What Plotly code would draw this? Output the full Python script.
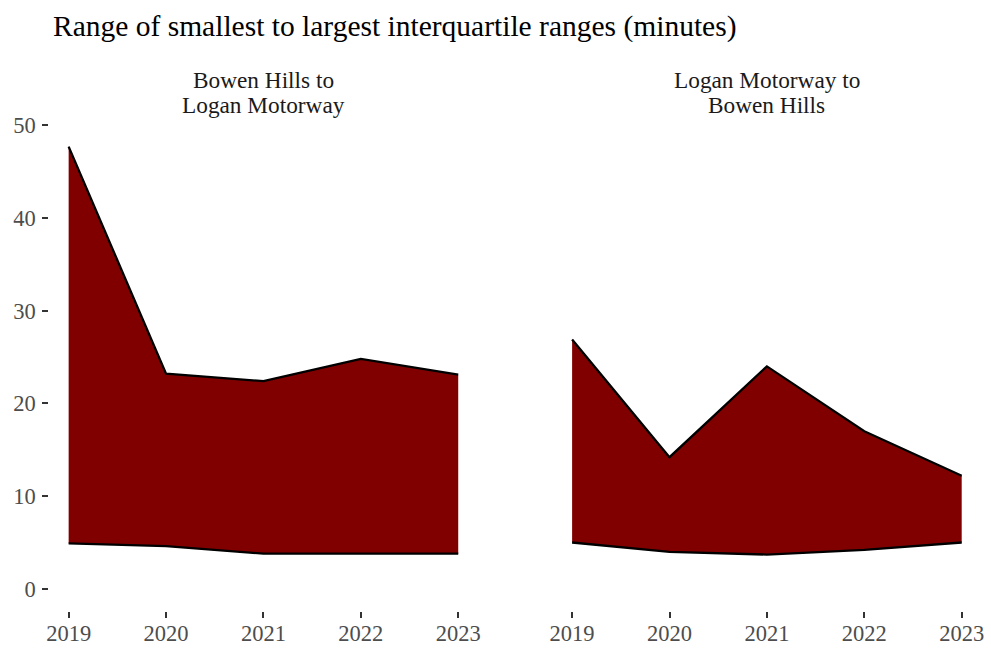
import plotly.graph_objects as go

years = [2019, 2020, 2021, 2022, 2023]
panel_lines = [["Bowen Hills to", "Logan Motorway"], ["Logan Motorway to", "Bowen Hills"]]
low_bh_lm = [4.9, 4.6, 3.8, 3.8, 3.8]
high_bh_lm = [47.7, 23.2, 22.4, 24.8, 23.1]
low_lm_bh = [5.0, 4.0, 3.7, 4.2, 5.0]
high_lm_bh = [26.9, 14.2, 24.0, 17.0, 12.2]
title = "Range of smallest to largest interquartile ranges (minutes)"

W, H = 991, 653
FONT = "Liberation Serif, Times New Roman, serif"
fill = "#800000"


# page-pixel helpers (screen offset/scale compensation)
def py(r):
    return 1 - (r / 0.985 - 10.2) / H


def px(r):
    return (r / 0.995 - 2.3) / W


fig = go.Figure()
for i, (lo, hi) in enumerate([(low_bh_lm, high_bh_lm), (low_lm_bh, high_lm_bh)]):
    xa = "x" if i == 0 else "x2"
    ya = "y" if i == 0 else "y2"
    fig.add_trace(go.Scatter(x=years, y=lo, mode="lines", line=dict(color="black", width=2.3),
                             xaxis=xa, yaxis=ya, showlegend=False, hoverinfo="skip"))
    fig.add_trace(go.Scatter(x=years, y=hi, mode="lines", line=dict(color="black", width=2.3),
                             fill="tonexty", fillcolor=fill,
                             xaxis=xa, yaxis=ya, showlegend=False, hoverinfo="skip"))

dom_y = [py(611.3), py(123.6)]
dx1 = [px(48.5), px(477.5)]
dx2 = [px(552.5), px(981.5)]
yr = [-2.4, 50.1]
xr = [2018.8, 2023.2]
tickfont = dict(family=FONT, size=22.5, color="#4d4d4d")
common_x = dict(range=xr, tickvals=years, ticktext=[str(y) for y in years], showgrid=False, zeroline=False,
                showline=False, ticks="outside", ticklen=6, tickwidth=2, tickcolor="#333333", tickfont=tickfont,
                ticklabelstandoff=-4)
annotations = [
    dict(text=title, x=px(50), y=py(26), xref="paper", yref="paper", xanchor="left", yanchor="middle",
         showarrow=False, font=dict(family=FONT, size=29.5, color="black")),
]
for dom, lines in [(dx1, panel_lines[0]), (dx2, panel_lines[1])]:
    for j, line in enumerate(lines):
        annotations.append(dict(text=line, x=(dom[0] + dom[1]) / 2, y=py(79 + 25 * j), xref="paper",
                                yref="paper", xanchor="center", yanchor="middle", showarrow=False,
                                font=dict(family=FONT, size=23.3, color="#1a1a1a")))

fig.update_layout(
    width=W, height=H, margin=dict(l=0, r=0, t=0, b=0, pad=0),
    plot_bgcolor="white", paper_bgcolor="white",
    xaxis=dict(domain=dx1, anchor="y", **common_x),
    xaxis2=dict(domain=dx2, anchor="y2", **common_x),
    yaxis=dict(domain=dom_y, range=yr, tickvals=[0, 10, 20, 30, 40, 50], showgrid=False, zeroline=False,
               showline=False, ticks="outside", ticklen=6, tickwidth=2, tickcolor="#333333", tickfont=tickfont,
               ticklabelstandoff=2, anchor="x"),
    yaxis2=dict(domain=dom_y, range=yr, showgrid=False, zeroline=False, showline=False, showticklabels=False,
                ticks="", anchor="x2"),
    annotations=annotations,
)
fig.write_html("out.html", config={"displayModeBar": False},
               post_script="document.body.style.margin='0';document.body.style.overflow='hidden';")
